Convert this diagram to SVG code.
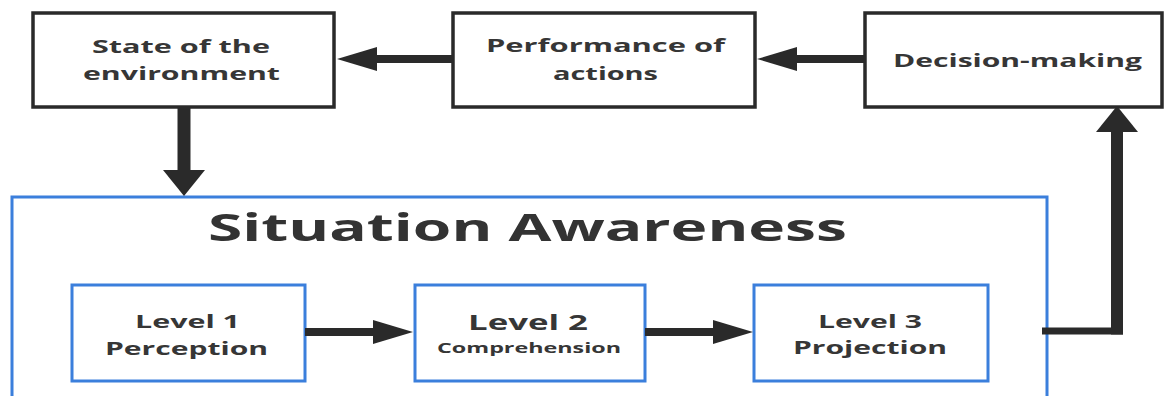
<svg xmlns="http://www.w3.org/2000/svg" width="1165" height="396" viewBox="0 0 1165 396">
<style>
  .bk { fill: #ffffff; stroke: #2a2a2a; stroke-width: 3.5; }
  .bl { fill: #ffffff; stroke: #3b7fdc; stroke-width: 3; }
  .t { font-family: "Open Sans", "Liberation Sans", sans-serif; font-weight: 700; fill: #363636; text-anchor: middle; }
  .title { font-family: "Open Sans", "Liberation Sans", sans-serif; font-weight: 700; fill: #333333; text-anchor: middle; }
  .c { fill: none; stroke: #2a2a2a; }
</style>
<defs>
  <marker id="hH" markerUnits="userSpaceOnUse" viewBox="0 0 40 24" markerWidth="40" markerHeight="24" refX="0" refY="12" orient="auto">
    <path d="M0,0 L40,12 L0,24 z" fill="#2a2a2a"/>
  </marker>
  <marker id="hV" markerUnits="userSpaceOnUse" viewBox="0 0 26 42" markerWidth="26" markerHeight="42" refX="0" refY="21" orient="auto">
    <path d="M0,0 L26,21 L0,42 z" fill="#2a2a2a"/>
  </marker>
</defs>
<rect width="1165" height="396" fill="#ffffff"/>

<g id="sa">
  <rect class="bl" x="12" y="197" width="1035" height="230"/>
  <text class="title" x="527.5" y="241" font-size="38" textLength="639" lengthAdjust="spacingAndGlyphs">Situation Awareness</text>
</g>

<g id="state">
  <rect class="bk" x="33" y="13" width="301" height="94"/>
  <text class="t" x="181" y="53" font-size="18" textLength="178" lengthAdjust="spacingAndGlyphs">State of the</text>
  <text class="t" x="181.5" y="80" font-size="18" textLength="197" lengthAdjust="spacingAndGlyphs">environment</text>
</g>

<g id="performance">
  <rect class="bk" x="453" y="13" width="302" height="94"/>
  <text class="t" x="605.5" y="52" font-size="18" textLength="239" lengthAdjust="spacingAndGlyphs">Performance of</text>
  <text class="t" x="605.5" y="80" font-size="18" textLength="105" lengthAdjust="spacingAndGlyphs">actions</text>
</g>

<g id="decision">
  <rect class="bk" x="865" y="13" width="297" height="94"/>
  <text class="t" x="1017.5" y="67" font-size="18" textLength="249" lengthAdjust="spacingAndGlyphs">Decision-making</text>
</g>

<g id="level1">
  <rect class="bl" x="72" y="285" width="233" height="96"/>
  <text class="t" x="187.5" y="328" font-size="18" textLength="105" lengthAdjust="spacingAndGlyphs">Level 1</text>
  <text class="t" x="186.5" y="355" font-size="18" textLength="163" lengthAdjust="spacingAndGlyphs">Perception</text>
</g>

<g id="level2">
  <rect class="bl" x="415" y="285" width="230" height="96"/>
  <text class="t" x="528" y="330" font-size="21" textLength="120" lengthAdjust="spacingAndGlyphs">Level 2</text>
  <text class="t" x="529" y="353" font-size="14" textLength="184" lengthAdjust="spacingAndGlyphs">Comprehension</text>
</g>

<g id="level3">
  <rect class="bl" x="754" y="285" width="234" height="96"/>
  <text class="t" x="870" y="328" font-size="18" textLength="104" lengthAdjust="spacingAndGlyphs">Level 3</text>
  <text class="t" x="870" y="354" font-size="18" textLength="154" lengthAdjust="spacingAndGlyphs">Projection</text>
</g>

<g id="connectors">
  <line class="c" x1="453" y1="59" x2="377" y2="59" stroke-width="8" marker-end="url(#hH)"/>
  <line class="c" x1="865" y1="59" x2="797" y2="59" stroke-width="8" marker-end="url(#hH)"/>
  <line class="c" x1="184" y1="107" x2="184" y2="170" stroke-width="13" marker-end="url(#hV)"/>
  <line class="c" x1="305" y1="332" x2="373" y2="332" stroke-width="8" marker-end="url(#hH)"/>
  <line class="c" x1="645" y1="332" x2="713" y2="332" stroke-width="8" marker-end="url(#hH)"/>
  <line class="c" x1="1042" y1="331" x2="1123" y2="331" stroke-width="7"/>
  <line class="c" x1="1117" y1="334.5" x2="1117" y2="132" stroke-width="12" marker-end="url(#hV)"/>
</g>
</svg>
